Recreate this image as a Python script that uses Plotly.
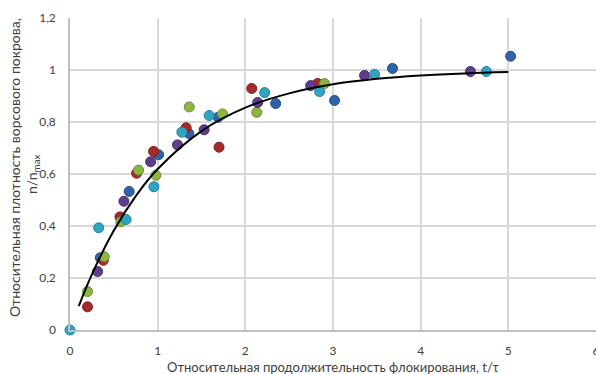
import plotly.graph_objects as go

# Data
blue_x = [0.345, 0.675, 1.01, 1.355, 1.69, 2.346, 3.018, 3.679, 5.026]
blue_y = [0.278, 0.533, 0.674, 0.756, 0.818, 0.871, 0.883, 1.006, 1.053]

red_x = [0.2, 0.38, 0.57, 0.76, 0.953, 1.325, 1.70, 2.073, 2.825]
red_y = [0.089, 0.268, 0.435, 0.603, 0.687, 0.778, 0.703, 0.929, 0.948]

green_x = [0.2, 0.39, 0.58, 0.782, 0.98, 1.36, 1.74, 2.13, 2.904]
green_y = [0.148, 0.282, 0.416, 0.615, 0.595, 0.858, 0.831, 0.837, 0.948]

purple_x = [0.315, 0.615, 0.92, 1.226, 1.53, 2.141, 2.745, 3.36, 4.567]
purple_y = [0.225, 0.495, 0.647, 0.712, 0.77, 0.875, 0.94, 0.979, 0.994]

teal_x = [0.0, 0.327, 0.64, 0.957, 1.276, 1.587, 2.221, 2.847, 3.474, 4.749]
teal_y = [0.0, 0.393, 0.425, 0.551, 0.761, 0.825, 0.913, 0.917, 0.983, 0.994]

# Trend curve
trend_x = [0.1, 0.25, 0.5, 0.75, 1.0, 1.5, 2.0, 2.5, 3.0, 3.5, 4.0, 4.5, 5.0]
trend_y = [0.092, 0.214, 0.383, 0.515, 0.619, 0.765, 0.855, 0.910, 0.945, 0.966, 0.979, 0.987, 0.992]

x_ticks = [0, 1, 2, 3, 4, 5, 6]
y_ticks = [0, 0.2, 0.4, 0.6, 0.8, 1.0, 1.2]
y_tick_text = ["0", "0,2", "0,4", "0,6", "0,8", "1", "1,2"]

x_title = "Относительная продолжительность флокирования, t/τ"
y_title_1 = "Относительная плотность ворсового покрова,"
y_title_2 = "n/n<sub>max</sub>"

series = [
    (blue_x, blue_y, "#2E63A8", "#234d85"),
    (red_x, red_y, "#A52B2B", "#7f2020"),
    (green_x, green_y, "#8DB541", "#6e8f30"),
    (purple_x, purple_y, "#5E3D8C", "#472e6b"),
    (teal_x, teal_y, "#2FA4C3", "#23809a"),
]

fig = go.Figure()
for xs, ys, col, edge in series:
    fig.add_trace(go.Scatter(
        x=xs, y=ys, mode="markers", cliponaxis=False,
        marker=dict(size=10, color=col, line=dict(color=edge, width=1)),
        showlegend=False,
    ))

fig.add_trace(go.Scatter(
    x=trend_x, y=trend_y, mode="lines",
    line=dict(color="#000000", width=2, shape="spline"),
    showlegend=False,
))

font_family = "Lato, 'Open Sans', sans-serif"
fig.update_layout(
    width=596, height=374,
    margin=dict(l=70, r=0, t=18, b=44),
    paper_bgcolor="white", plot_bgcolor="white",
    font=dict(family=font_family, size=12, color="#595959"),
    xaxis=dict(
        range=[0, 6], tickvals=x_ticks, ticktext=[str(v) for v in x_ticks],
        showgrid=True, gridcolor="#d9d9d9", gridwidth=1.5,
        showline=True, linecolor="#bfbfbf", linewidth=1.5,
        zeroline=False, ticks="", ticklabelstandoff=9,
        ticklabeloverflow="allow", automargin=False,
        tickfont=dict(size=12, color="#404040"),
    ),
    yaxis=dict(
        range=[0, 1.2], tickvals=y_ticks, ticktext=y_tick_text,
        showgrid=True, gridcolor="#d9d9d9", gridwidth=1.5,
        showline=True, linecolor="#bfbfbf", linewidth=1.5,
        zeroline=False, ticks="", ticklabelstandoff=10,
        automargin=False,
        tickfont=dict(size=12, color="#404040"),
    ),
    annotations=[
        dict(text=x_title, xref="paper", yref="paper", x=0.5, y=-0.12,
             xanchor="center", yanchor="middle", showarrow=False,
             font=dict(size=13, color="#404040")),
        dict(text=y_title_1, xref="paper", yref="paper", x=-0.1065, y=0.522,
             xanchor="center", yanchor="middle", showarrow=False, textangle=-90,
             font=dict(size=14, color="#404040")),
        dict(text=y_title_2, xref="paper", yref="paper", x=-0.0703, y=0.497,
             xanchor="center", yanchor="middle", showarrow=False, textangle=-90,
             font=dict(size=14, color="#404040")),
    ],
)

fig.write_html("out.html", config={"displayModeBar": False},
               post_script="document.body.style.margin='0';")
